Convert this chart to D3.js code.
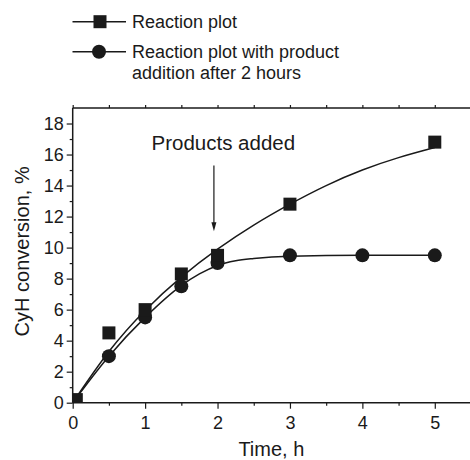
<!DOCTYPE html>
<html>
<head>
<meta charset="utf-8">
<script src="https://cdn.jsdelivr.net/npm/d3@7"></script>
<style>
  html, body { margin: 0; padding: 0; background: #fff; }
  svg { display: block; font-family: Arial, "Liberation Sans", sans-serif; }
</style>
</head>
<body>
<svg id="chart" width="470" height="460"></svg>
<script>
// ---- data ----
const seriesNames = ["Reaction plot", "Reaction plot with product", "addition after 2 hours"];
const squareX = [0.05, 0.5, 1, 1.5, 2, 3, 5];
const squareY = [0.2, 4.5, 6.0, 8.3, 9.5, 12.8, 16.8];
const circleX = [0, 0.5, 1, 1.5, 2, 3, 4, 5];
const circleY = [0, 3.0, 5.5, 7.5, 9.0, 9.5, 9.5, 9.5];
// fitted curves
const squareFitX = [0, 0.5, 1, 1.5, 2, 2.5, 3, 3.5, 4, 4.5, 5];
const squareFitY = [0, 3.3, 5.95, 8.1, 9.9, 11.45, 12.8, 14.0, 15.0, 15.8, 16.45];
const circleFitX = [0, 0.5, 1, 1.5, 1.75, 2, 2.25, 2.5, 3, 4, 5];
const circleFitY = [0, 3.0, 5.5, 7.55, 8.3, 8.85, 9.15, 9.3, 9.45, 9.5, 9.5];
const xTicks = [0, 1, 2, 3, 4, 5];
const yTicks = [0, 2, 4, 6, 8, 10, 12, 14, 16, 18];
const xMinorTicks = [0.5, 1.5, 2.5, 3.5, 4.5];
const yMinorTicks = [1, 3, 5, 7, 9, 11, 13, 15, 17];
const annotationText = "Products added";
const arrowX = 1.95, arrowFromY = 15.3, arrowToY = 11.05;

// ---- layout ----
const svg = d3.select("#chart");
const L = 72.7, R = 471, T = 108, B = 402.7;
const x = d3.scaleLinear().domain([0, 5.5]).range([L, R]);
const y = d3.scaleLinear().domain([0, 19]).range([B, T]);
const ink = "#1a1a1a";

svg.append("defs").append("clipPath").attr("id", "clip")
  .append("rect").attr("x", L).attr("y", T).attr("width", R - L).attr("height", B - T);

const plot = svg.append("g").attr("clip-path", "url(#clip)");

// curves
const lineNat = d3.line().x(d => x(d[0])).y(d => y(d[1])).curve(d3.curveNatural);
const lineMono = d3.line().x(d => x(d[0])).y(d => y(d[1])).curve(d3.curveMonotoneX);
plot.append("path").datum(squareFitX.map((v, i) => [v, squareFitY[i]]))
  .attr("d", lineNat).attr("fill", "none").attr("stroke", ink).attr("stroke-width", 1.5);
plot.append("path").datum(circleFitX.map((v, i) => [v, circleFitY[i]]))
  .attr("d", lineMono).attr("fill", "none").attr("stroke", ink).attr("stroke-width", 1.5);

// markers
const sq = 13, cr = 7;
plot.selectAll("circle.c").data(circleX.map((v, i) => [v, circleY[i]])).enter()
  .append("circle").attr("cx", d => x(d[0])).attr("cy", d => y(d[1])).attr("r", cr).attr("fill", ink);
plot.selectAll("rect.s").data(squareX.map((v, i) => [v, squareY[i]])).enter()
  .append("rect").attr("x", d => x(d[0]) - sq / 2).attr("y", d => y(d[1]) - sq / 2)
  .attr("width", sq).attr("height", sq).attr("fill", ink);

// axes
const fs = "18px";
const xAxis = svg.append("g").attr("transform", `translate(0,${B})`)
  .call(d3.axisBottom(x).tickValues(xTicks).tickSize(6).tickPadding(8).tickFormat(d3.format("d")));
const xMinor = svg.append("g").attr("transform", `translate(0,${B})`)
  .call(d3.axisBottom(x).tickValues(xMinorTicks).tickSize(3).tickFormat(""));
const yAxis = svg.append("g").attr("transform", `translate(${L},0)`)
  .call(d3.axisLeft(y).tickValues(yTicks).tickSize(6).tickPadding(3).tickFormat(d3.format("d")));
const yMinor = svg.append("g").attr("transform", `translate(${L},0)`)
  .call(d3.axisLeft(y).tickValues(yMinorTicks).tickSize(3).tickFormat(""));
const topAxis = svg.append("g").attr("transform", `translate(0,${T})`)
  .call(d3.axisTop(x).tickValues(xTicks.concat(xMinorTicks)).tickSize(3).tickFormat(""));
const rightAxis = svg.append("g").attr("transform", `translate(${R},0)`)
  .call(d3.axisRight(y).tickValues(yTicks).tickSize(3).tickFormat(""));

[xAxis, xMinor, yAxis, yMinor, topAxis, rightAxis].forEach(g => {
  g.selectAll("path.domain").attr("stroke", ink).attr("stroke-width", 1.5);
  g.selectAll(".tick line").attr("stroke", ink).attr("stroke-width", 1.2);
  g.selectAll("text").attr("font-size", fs).attr("font-family", "Arial, 'Liberation Sans', sans-serif").attr("fill", ink);
});
[xMinor, yMinor].forEach(g => g.select("path.domain").remove());
xAxis.select("path.domain").attr("d", `M${L},0H${R}`);
yAxis.select("path.domain").attr("d", `M0,${B}V${T}`);
topAxis.select("path.domain").attr("d", `M${L},0H${R}`);
rightAxis.select("path.domain").attr("d", `M0,${B}V${T}`);
xAxis.selectAll("text").attr("dy", "0.71em");

// axis titles
svg.append("text").attr("x", (L + R) / 2 - 0.5).attr("y", 455.5)
  .attr("text-anchor", "middle").attr("font-size", "20px").attr("fill", ink).text("Time, h");
svg.append("text").attr("transform", `translate(29,${(T + B) / 2 - 4}) rotate(-90)`)
  .attr("text-anchor", "middle").attr("font-size", "20px").attr("fill", ink).text("CyH conversion, %");

// annotation
svg.append("text").attr("x", 151.5).attr("y", 149.5).attr("font-size", "20.5px").attr("fill", ink).text(annotationText);
svg.append("line").attr("x1", x(arrowX)).attr("x2", x(arrowX))
  .attr("y1", y(arrowFromY)).attr("y2", y(arrowToY) - 4)
  .attr("stroke", ink).attr("stroke-width", 1.2);
svg.append("path")
  .attr("d", `M${x(arrowX) - 2.5},${y(arrowToY) - 9}L${x(arrowX)},${y(arrowToY)}L${x(arrowX) + 2.5},${y(arrowToY) - 9}Z`)
  .attr("fill", ink);

// legend
const lg = svg.append("g");
const legendRows = [{ y: 21.7, shape: "square", texts: [seriesNames[0]] },
                    { y: 51.7, shape: "circle", texts: [seriesNames[1], seriesNames[2]] }];
legendRows.forEach(r => {
  lg.append("line").attr("x1", 72.5).attr("x2", 126).attr("y1", r.y).attr("y2", r.y)
    .attr("stroke", ink).attr("stroke-width", 1.5);
  if (r.shape === "square") {
    lg.append("rect").attr("x", 100 - 6.5).attr("y", r.y - 6.5).attr("width", 13).attr("height", 13).attr("fill", ink);
  } else {
    lg.append("circle").attr("cx", 99).attr("cy", r.y).attr("r", 7).attr("fill", ink);
  }
  r.texts.forEach((t, i) => {
    lg.append("text").attr("x", 132).attr("y", r.y + 6 + i * 21).attr("font-size", "18px").attr("fill", ink).text(t);
  });
});
</script>
</body>
</html>
